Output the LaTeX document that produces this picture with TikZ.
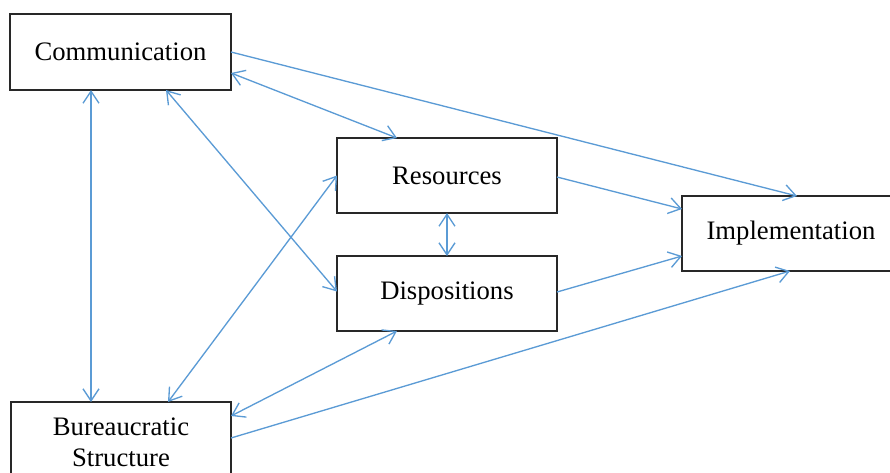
\documentclass[tikz,border=0pt]{standalone}
\usepackage{fontspec}
\setmainfont{Liberation Serif}
\usetikzlibrary{arrows.meta,calc}

\definecolor{linkblue}{RGB}{91,155,213}
\definecolor{boxgray}{RGB}{40,40,40}

\tikzset{every picture/.style={line width=0.75pt}}
\tikzset{
	factor/.style={draw=boxgray, line width=1.3pt, fill=white, outer sep=0pt, inner sep=0pt,
		minimum width=165pt, minimum height=56.25pt, align=center, font=\fontsize{20}{23}\selectfont},
	oneway/.style={draw=linkblue, line width=1pt, -{Straight Barb[length=9pt,width=12pt]}},
	twoway/.style={draw=linkblue, line width=1pt, {Straight Barb[length=9pt,width=12pt]}-{Straight Barb[length=9pt,width=12pt]}}
}

\begin{document}
\begin{tikzpicture}[x=0.75pt,y=0.75pt,yscale=-1,xscale=1]
	\useasboundingbox (0,0) rectangle (890,472);
	\clip (0,0) rectangle (890,472);

	% Text Node
	\node [factor, minimum width=165.75pt, minimum height=57pt] (comm) at (120.5,52) {Communication};
	% Text Node
	\node [factor] (res) at (447,175.5) {Resources};
	% Text Node
	\node [factor] (disp) at (447,293.5) {Dispositions};
	% Text Node
	\node [factor, minimum width=163.5pt] (impl) at (791,233.5) {Implementation};
	% Text Node
	\node [factor, minimum height=60pt] (bur) at (121,442) {Bureaucratic\\Structure};

	%Straight Lines
	\draw [twoway] ($(comm.south west)+(81,0)$) -- ($(bur.north west)+(80,0)$);
	\draw [twoway] ($(comm.south west)+(156,0)$) -- ($(disp.west)+(0,-2)$);
	\draw [twoway] ($(bur.north west)+(157,0)$) -- (res.west);
	\draw [twoway] ($(comm.east)+(0,21)$) -- ($(res.north west)+(60,0)$);
	\draw [oneway] (comm.east) -- ($(impl.north west)+(115,0)$);
	\draw [oneway] ($(res.east)+(0,1.5)$) -- ($(impl.west)+(0,-24.5)$);
	\draw [twoway] (res.south) -- (disp.north);
	\draw [oneway] ($(disp.east)+(0,-1.5)$) -- ($(impl.west)+(0,22.5)$);
	\draw [twoway] ($(bur.north east)+(0,14)$) -- ($(disp.south west)+(60,0)$);
	\draw [oneway] ($(bur.east)+(0,-4)$) -- ($(impl.south west)+(108,0)$);

\end{tikzpicture}
\end{document}
